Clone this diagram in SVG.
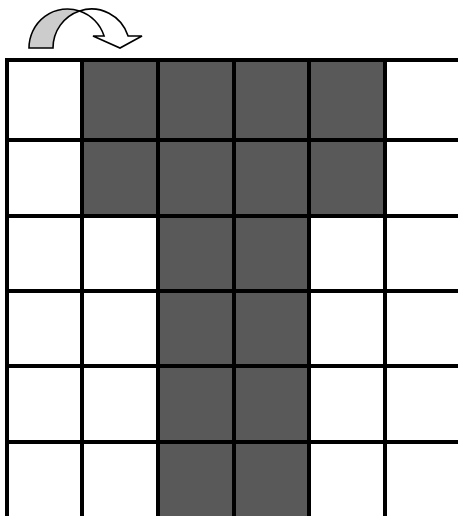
<svg xmlns="http://www.w3.org/2000/svg" width="458" height="516" viewBox="0 0 458 516">
<style>
.cell{fill:#595959;stroke:none}
.grid{stroke:#000;stroke-width:4;fill:none}
.arrow{stroke:#000;stroke-width:1.6;stroke-linejoin:miter}
</style>
<rect width="458" height="516" fill="#fff"/>
<g id="fills">
<rect class="cell" x="82" y="60" width="303" height="156"/>
<rect class="cell" x="158" y="216" width="151" height="300"/>
</g>
<g id="grid">
<path class="grid" d="M5,60H458M5,140H458M5,216H458M5,291H458M5,366H458M5,442H458"/>
<path class="grid" d="M7,58V516M82,58V516M158,58V516M234,58V516M309,58V516M385,58V516"/>
</g>
<g id="arrow">
<path class="arrow" fill="#ccc" d="M29,48 A38.5,39 0 0 1 79.5,10.9 A38.5,39 0 0 0 53,48 Z"/>
<path class="arrow" fill="#fff" d="M79.5,10.9 A38.5,39 0 0 1 128.1,36 L142,36 L120,48 L93,36 L104.1,36 A38.5,39 0 0 0 79.5,10.9 Z"/>
</g>
</svg>
